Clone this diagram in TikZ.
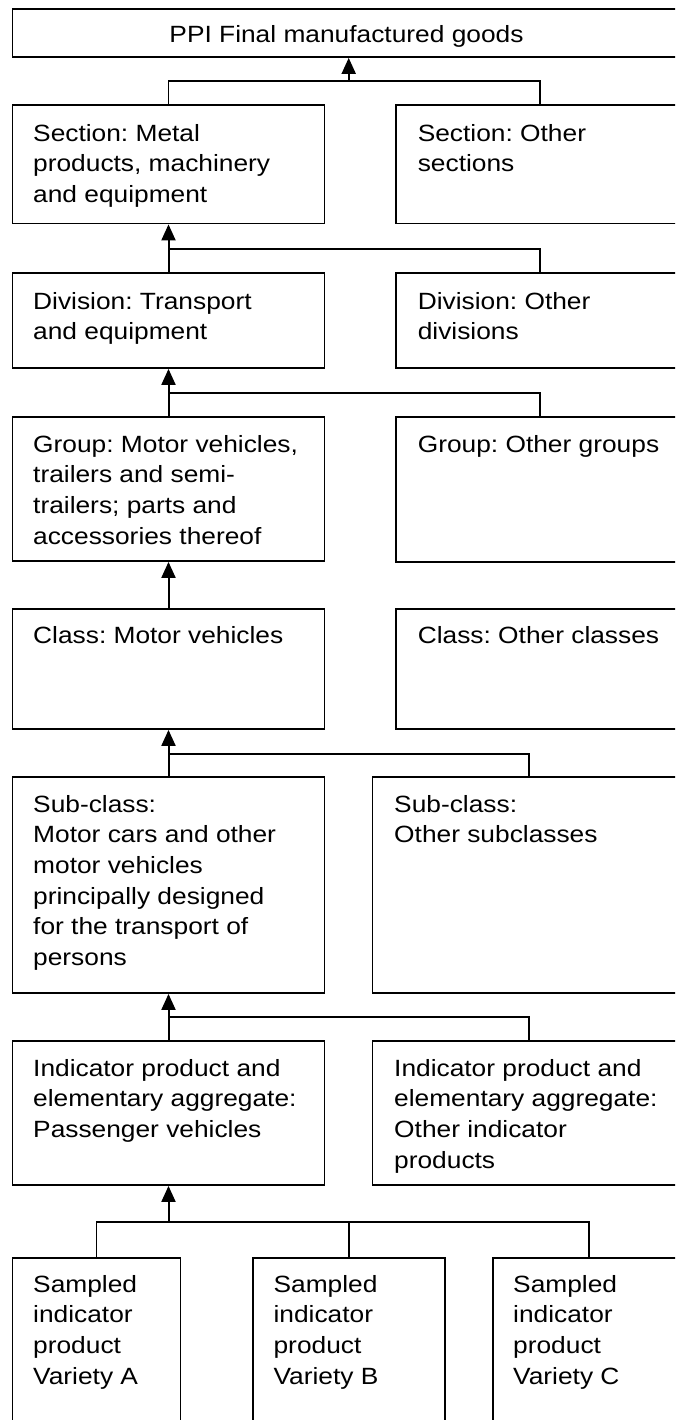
\documentclass[tikz,border=0pt]{standalone}
\usepackage{fontspec}
\setmainfont[FakeStretch=1.12]{Liberation Sans}
\usetikzlibrary{arrows.meta,fit}
\frenchspacing
\begin{document}
\begin{tikzpicture}[x=1pt,y=-1pt,
  box/.style={draw, line width=1.8pt, inner sep=0pt},
  txt/.style={anchor=north west, inner sep=0pt, align=left, font=\fontsize{23.5}{30.6}\selectfont\frenchspacing},
  conn/.style={line width=1.8pt},
  arr/.style={line width=2pt, -{Triangle[length=16pt,width=14pt]}}]
\useasboundingbox (0,0) rectangle (675,1420);
\clip (0,0) rectangle (675,1420);
% boxes
\node[box, fit={(12.5,9) (690,57)}] (top) {};
\node[box, fit={(12.5,105) (324.5,223.5)}] (sec1) {};
\node[box, fit={(396,105) (690,223.5)}] (sec2) {};
\node[box, fit={(12.5,273) (324.5,368)}] (div1) {};
\node[box, fit={(396,273) (690,368)}] (div2) {};
\node[box, fit={(12.5,417) (324.5,561)}] (grp1) {};
\node[box, fit={(396,417) (690,562)}] (grp2) {};
\node[box, fit={(12.5,609) (324.5,729)}] (cls1) {};
\node[box, fit={(396,609) (690,729)}] (cls2) {};
\node[box, fit={(12.5,777) (324.5,993)}] (sub1) {};
\node[box, fit={(372.4,777) (690,993)}] (sub2) {};
\node[box, fit={(12.5,1041) (324.5,1185)}] (ind1) {};
\node[box, fit={(372.4,1041) (690,1185)}] (ind2) {};
\node[box, fit={(12.5,1258) (180.5,1440)}] (sA) {};
\node[box, fit={(253,1258) (445,1440)}] (sB) {};
\node[box, fit={(493,1258) (690,1440)}] (sC) {};
% texts
\node[txt, anchor=base] (topt) at (346.5,43) {PPI Final manufactured goods};
\node[txt] (sec1t) at (33,119) {\rule{0pt}{22pt}Section: Metal\\products, machinery\\and equipment};
\node[txt] (sec2t) at (417.6,119) {\rule{0pt}{22pt}Section: Other\\sections};
\node[txt] (div1t) at (33,287) {\rule{0pt}{22pt}Division: Transport\\and equipment};
\node[txt] (div2t) at (417.6,287) {\rule{0pt}{22pt}Division: Other\\divisions};
\node[txt] (grp1t) at (33,430) {\rule{0pt}{22pt}Group: Motor vehicles,\\trailers and semi-\\trailers; parts and\\accessories thereof};
\node[txt] (grp2t) at (417.6,430) {\rule{0pt}{22pt}Group: Other groups};
\node[txt] (cls1t) at (33,621) {\rule{0pt}{22pt}Class: Motor vehicles};
\node[txt] (cls2t) at (417.6,621) {\rule{0pt}{22pt}Class: Other classes};
\node[txt] (sub1t) at (33,790) {\rule{0pt}{22pt}Sub-class:\\Motor cars and other\\motor vehicles\\principally designed\\for the transport of\\persons};
\node[txt] (sub2t) at (394,790) {\rule{0pt}{22pt}Sub-class:\\Other subclasses};
\node[txt] (ind1t) at (33,1054) {\rule{0pt}{22pt}Indicator product and\\elementary aggregate:\\Passenger vehicles};
\node[txt] (ind2t) at (394,1054) {\rule{0pt}{22pt}Indicator product and\\elementary aggregate:\\Other indicator\\products};
\node[txt] (sAt) at (33,1270) {\rule{0pt}{22pt}Sampled\\indicator\\product\\Variety A};
\node[txt] (sBt) at (273.4,1270) {\rule{0pt}{22pt}Sampled\\indicator\\product\\Variety B};
\node[txt] (sCt) at (513,1270) {\rule{0pt}{22pt}Sampled\\indicator\\product\\Variety C};
% connectors
\coordinate (j0) at (348.7,81);
\coordinate (r0) at (540,81);
\draw[conn] (sec1.north) |- (r0) -- (r0 |- sec2.north);
\draw[arr] (j0) -- (j0 |- top.south);
\coordinate (r1) at (540,249);
\draw[conn] (div1.north) |- (r1) -- (r1 |- div2.north);
\draw[arr] (div1.north) -- (sec1.south);
\coordinate (r2) at (540,393);
\draw[conn] (grp1.north) |- (r2) -- (r2 |- grp2.north);
\draw[arr] (grp1.north) -- (div1.south);
\draw[arr] (cls1.north) -- (grp1.south);
\coordinate (r4) at (528.6,754);
\draw[conn] (sub1.north) |- (r4) -- (r4 |- sub2.north);
\draw[arr] (sub1.north) -- (cls1.south);
\coordinate (r5) at (528.6,1017);
\draw[conn] (ind1.north) |- (r5) -- (r5 |- ind2.north);
\draw[arr] (ind1.north) -- (sub1.south);
\coordinate (r6) at (589,1222);
\draw[conn] (sA.north) |- (r6) -- (r6 |- sC.north);
\draw[conn] (sB.north) -- (sB.north |- r6);
\draw[arr] (ind1.south |- r6) -- (ind1.south);
\end{tikzpicture}
\end{document}
